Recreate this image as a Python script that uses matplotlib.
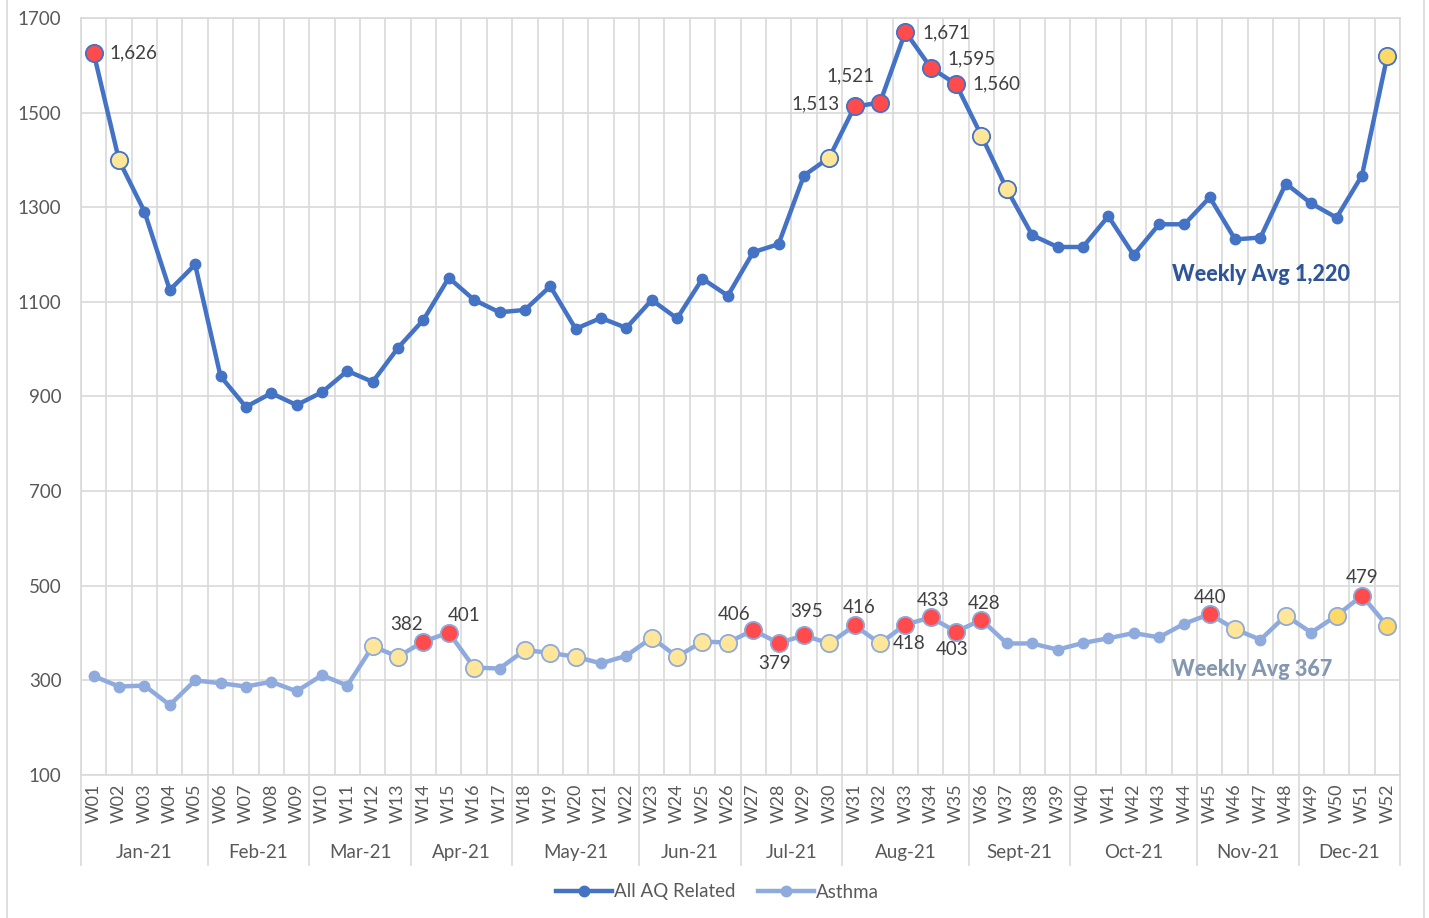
import matplotlib.pyplot as plt
from matplotlib.patches import Rectangle
from matplotlib.transforms import blended_transform_factory

plt.rcParams['font.family'] = ['Lato', 'DejaVu Sans']

weeks = ["W%02d" % i for i in range(1, 53)]
months = ["Jan-21", "Feb-21", "Mar-21", "Apr-21", "May-21", "Jun-21",
          "Jul-21", "Aug-21", "Sept-21", "Oct-21", "Nov-21", "Dec-21"]
month_weeks = [5, 4, 4, 4, 5, 4, 4, 5, 4, 5, 4, 4]

all_aq = [1626, 1399, 1291, 1125, 1179, 943, 878, 907, 882, 909, 954, 931, 1003,
          1062, 1151, 1104, 1078, 1083, 1133, 1043, 1066, 1045, 1104, 1065, 1149, 1113,
          1205, 1222, 1367, 1405, 1513, 1521, 1671, 1595, 1560, 1451, 1338, 1241, 1216,
          1216, 1281, 1199, 1264, 1264, 1321, 1232, 1236, 1350, 1308, 1278, 1367, 1620]
asthma = [309, 287, 289, 248, 300, 294, 287, 297, 277, 311, 289, 372, 350,
          382, 401, 327, 325, 364, 358, 350, 336, 352, 390, 350, 382, 380,
          406, 379, 395, 378, 416, 378, 418, 433, 403, 428, 378, 378, 365,
          379, 389, 400, 391, 420, 440, 408, 386, 437, 401, 437, 479, 415]

aq_red = ["W01", "W31", "W32", "W33", "W34", "W35"]
aq_yellow = ["W02", "W30", "W36", "W37"]
aq_gold = ["W52"]
asthma_red = ["W14", "W15", "W27", "W28", "W29", "W31", "W33", "W34", "W35", "W36", "W45", "W51"]
asthma_yellow = ["W12", "W13", "W16", "W18", "W19", "W20", "W23", "W24", "W25", "W26",
                 "W30", "W32", "W46", "W48"]
asthma_gold = ["W50", "W52"]

# label offsets (points) and alignment
aq_lab = {"W01": (11, 0, 'left'), "W31": (-11, 2, 'right'), "W32": (-21, 19, 'center'),
          "W33": (12, -1, 'left'), "W34": (12, 6, 'left'), "W35": (12, 0, 'left')}
as_lab = {"W14": (-12, 12), "W15": (11, 12), "W27": (-14, 11), "W28": (-3, -15),
          "W29": (2, 17), "W31": (3, 13), "W33": (3, -14), "W34": (2, 12),
          "W35": (-3, -13), "W36": (2, 12), "W45": (0, 12), "W51": (0, 13)}

c_aq = '#4472C4'
c_as = '#8FAADC'
c_red = '#FF4B4B'
c_yel = '#FFE699'
c_gold = '#FFD966'
grid_c = '#D9D9D9'
txt_c = '#595959'

fig = plt.figure(figsize=(14.29, 9.18), dpi=100)
ax = fig.add_axes([81 / 1429, 1 - 775 / 918, 1319 / 1429, 757 / 918])

x = list(range(len(weeks)))
l1, = ax.plot(x, all_aq, color=c_aq, lw=3.2, marker='o', ms=7.5, label='All AQ Related', zorder=3)
l2, = ax.plot(x, asthma, color=c_as, lw=3.2, marker='o', ms=7.5, label='Asthma', zorder=3)


def hl(series, wk_list, face, edge):
    xs = [weeks.index(w) for w in wk_list]
    ax.scatter(xs, [series[i] for i in xs], s=155, color=face, edgecolor=edge,
               linewidth=1.3, zorder=4)


hl(all_aq, aq_red, c_red, c_aq)
hl(all_aq, aq_yellow, c_yel, c_aq)
hl(all_aq, aq_gold, c_gold, c_aq)
hl(asthma, asthma_red, c_red, c_as)
hl(asthma, asthma_yellow, c_yel, c_as)
hl(asthma, asthma_gold, c_gold, c_as)

for w, (dx, dy, ha) in aq_lab.items():
    i = weeks.index(w)
    ax.annotate(f"{all_aq[i]:,}", (i, all_aq[i]), xytext=(dx, dy), textcoords='offset points',
                ha=ha, va='center', fontsize=13.5, color='#404040', zorder=5)
for w, (dx, dy) in as_lab.items():
    i = weeks.index(w)
    ax.annotate(f"{asthma[i]:,}", (i, asthma[i]), xytext=(dx, dy), textcoords='offset points',
                ha='center', va='center', fontsize=13.5, color='#404040', zorder=5)

ax.text(42.5, 1157, "Weekly Avg 1,220", fontsize=15.5, fontweight='black', color='#2F5597',
        ha='left', va='center')
ax.text(42.5, 322, "Weekly Avg 367", fontsize=15.5, fontweight='black', color='#8497B0',
        ha='left', va='center')

ax.set_xlim(-0.5, len(weeks) - 0.5)
ax.set_ylim(100, 1700)
ax.set_yticks(range(100, 1701, 200))
ax.set_xticks(x)
ax.set_xticklabels(weeks, rotation=90, fontsize=13, color=txt_c)
ax.set_xticks([i - 0.5 for i in range(len(weeks) + 1)], minor=True)
ax.tick_params(axis='x', which='both', length=0, pad=6)
ax.tick_params(axis='y', length=0, labelsize=13.5, labelcolor=txt_c, pad=14)
ax.grid(axis='y', color=grid_c, lw=1.2)
ax.grid(axis='x', which='minor', color=grid_c, lw=1.2)
for s in ax.spines.values():
    s.set_color(grid_c)
    s.set_linewidth(1.2)
ax.set_axisbelow(True)

# month group labels below the week labels
tr = blended_transform_factory(ax.transData, ax.transAxes)
start = 0
ax.plot([-0.5, -0.5], [0, -0.119], transform=tr, color=grid_c, lw=1.2, clip_on=False)
for m, n in zip(months, month_weeks):
    end = start + n
    ax.plot([end - 0.5, end - 0.5], [0, -0.119], transform=tr, color=grid_c, lw=1.2, clip_on=False)
    ax.text((start + end - 1) / 2, -0.103, m, transform=tr, ha='center', va='center',
            fontsize=13.5, color=txt_c)
    start = end

fig.legend(handles=[l1, l2], loc='center', bbox_to_anchor=(0.502, 26 / 918), ncol=2,
           frameon=False, fontsize=13.5, labelcolor=txt_c, handlelength=3, handletextpad=0.1,
           columnspacing=1.2)

fig.patches.append(Rectangle((7 / 1429, -0.01), 1417 / 1429, 1.02, transform=fig.transFigure,
                             fill=False, edgecolor=grid_c, lw=1.2))

fig.savefig('out.png', dpi=100)
